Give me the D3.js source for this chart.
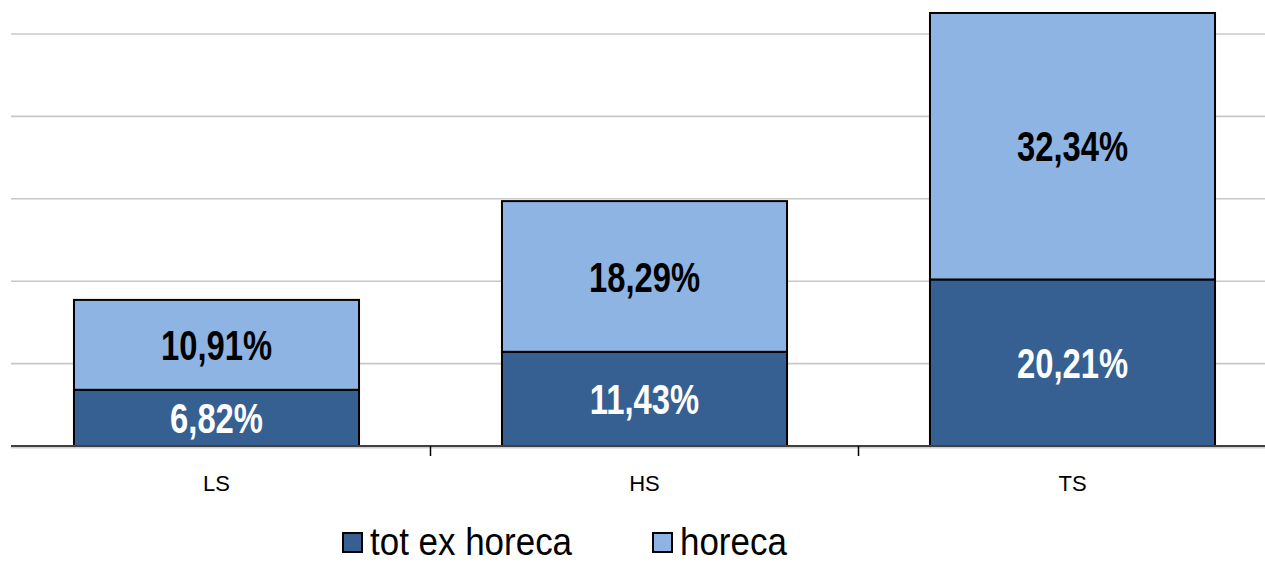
<!DOCTYPE html>
<html>
<head>
<meta charset="utf-8">
<script src="https://cdn.jsdelivr.net/npm/d3@7"></script>
<style>
  body { margin: 0; background: #fff; }
  svg { display: block; }
  text { font-family: "Liberation Sans", Arial, sans-serif; }
</style>
</head>
<body>
<div id="chart"></div>
<script>
// data
var categories = ["LS", "HS", "TS"];
var totExHoreca = [6.82, 11.43, 20.21];
var horeca = [10.91, 18.29, 32.34];
var seriesNames = ["tot ex horeca", "horeca"];
var yTicks = [10, 20, 30, 40, 50];

var width = 1265, height = 563;
var colors = ["#376092", "#8EB4E3"];
var labelColors = ["#fff", "#000"];

var rows = categories.map(function (c, i) {
  return { cat: c, "tot ex horeca": totExHoreca[i], "horeca": horeca[i] };
});

var svg = d3.select("#chart")
  .append("svg")
  .attr("width", width)
  .attr("height", height);

var x = d3.scaleBand()
  .domain(categories)
  .range([2.5, 1286.5])
  .paddingInner(0.334)
  .paddingOuter(0.167);

var y = d3.scaleLinear()
  .domain([0, 50])
  .range([446, 34]);

// gridlines
svg.append("g")
  .selectAll("line")
  .data(yTicks)
  .enter().append("line")
  .attr("x1", 11).attr("x2", width)
  .attr("y1", function (d) { return y(d); })
  .attr("y2", function (d) { return y(d); })
  .attr("stroke", "#c8c8c8")
  .attr("stroke-width", 1.6);

// stacked bars
var stack = d3.stack().keys(seriesNames)(rows);

var layers = svg.append("g")
  .selectAll("g")
  .data(stack)
  .enter().append("g")
  .attr("fill", function (d, i) { return colors[i]; });

layers.selectAll("rect")
  .data(function (d) { return d; })
  .enter().append("rect")
  .attr("x", function (d) { return x(d.data.cat); })
  .attr("width", x.bandwidth())
  .attr("y", function (d) { return y(d[1]); })
  .attr("height", function (d) { return y(d[0]) - y(d[1]); })
  .attr("stroke", "#000")
  .attr("stroke-width", 2);

// value labels, squeezed horizontally like the narrow font of the original
var sqz = 0.78;
layers.each(function (layer, li) {
  d3.select(this).selectAll("text")
    .data(layer)
    .enter().append("text")
    .attr("transform", function (d) {
      var cx = x(d.data.cat) + x.bandwidth() / 2;
      var cy = (y(d[0]) + y(d[1])) / 2;
      return "translate(" + cx + "," + cy + ") scale(" + sqz + ",1)";
    })
    .attr("dy", "0.36em")
    .attr("text-anchor", "middle")
    .attr("font-size", 42)
    .attr("font-weight", "bold")
    .attr("fill", labelColors[li])
    .text(function (d) {
      return (d[1] - d[0]).toFixed(2).replace(".", ",") + "%";
    });
});

// x axis
var xAxis = svg.append("g").attr("transform", "translate(0,446)");
xAxis.append("line")
  .attr("x1", 11).attr("x2", width)
  .attr("y1", 1.5).attr("y2", 1.5)
  .attr("stroke", "#cfcfcf").attr("stroke-width", 2);
xAxis.append("line")
  .attr("x1", 11).attr("x2", width)
  .attr("stroke", "#404040").attr("stroke-width", 2);

// tick marks between categories
xAxis.selectAll("line.tick")
  .data(categories.slice(1))
  .enter().append("line")
  .attr("class", "tick")
  .attr("x1", function (d) { return x(d) - x.step() * x.paddingInner() / 2; })
  .attr("x2", function (d) { return x(d) - x.step() * x.paddingInner() / 2; })
  .attr("y1", 0).attr("y2", 10)
  .attr("stroke", "#000").attr("stroke-width", 1.5);

xAxis.selectAll("text")
  .data(categories)
  .enter().append("text")
  .attr("x", function (d) { return x(d) + x.bandwidth() / 2; })
  .attr("y", 45)
  .attr("text-anchor", "middle")
  .attr("font-size", 22)
  .attr("fill", "#000")
  .text(function (d) { return d; });

// legend
var legendX = [343, 653];
var legend = svg.append("g")
  .selectAll("g")
  .data(seriesNames)
  .enter().append("g")
  .attr("transform", function (d, i) { return "translate(" + legendX[i] + ",533)"; });

legend.append("rect")
  .attr("width", 19).attr("height", 19)
  .attr("fill", function (d, i) { return colors[i]; })
  .attr("stroke", "#000").attr("stroke-width", 2);

legend.append("text")
  .attr("transform", "translate(27,22) scale(0.92,1)")
  .attr("font-size", 38)
  .attr("fill", "#000")
  .text(function (d) { return d; });
</script>
</body>
</html>
